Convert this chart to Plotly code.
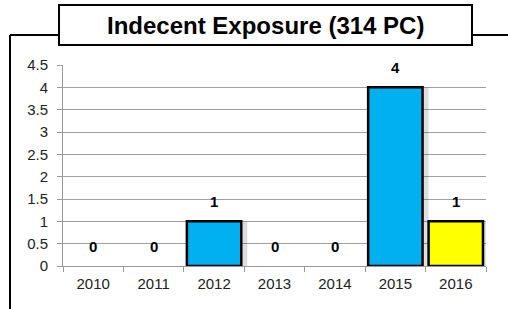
import plotly.graph_objects as go

years = ["2010", "2011", "2012", "2013", "2014", "2015", "2016"]
counts = [0, 0, 1, 0, 0, 4, 1]
bar_colors = ["#00B0F0"] * 6 + ["#FFFF00"]
y_ticks = [0, 0.5, 1, 1.5, 2, 2.5, 3, 3.5, 4, 4.5]
title_text = "Indecent Exposure (314 PC)"

W, H = 508, 309
L, R, T, B = 63, 486, 65, 266
pw, ph = R - L, B - T
FONT = "Liberation Sans, Arial"

def px(x):
    return (x - L) / pw

def py(y):
    return (B - y) / ph

line_widths = [2.5 if c > 0 else 0 for c in counts]

fig = go.Figure()
# soft shadow behind bars
fig.add_trace(go.Bar(
    x=years, y=counts, width=0.9, offset=-0.45 + 0.1,
    marker=dict(color="rgba(0,0,0,0.13)", line=dict(width=0)),
    hoverinfo="skip",
))
fig.add_trace(go.Bar(
    x=years, y=counts, width=0.9, offset=-0.45,
    marker=dict(color=bar_colors, line=dict(color="black", width=line_widths)),
    hoverinfo="skip",
))

annotations = []
for i, c in enumerate(counts):
    annotations.append(dict(x=i, y=c, xref="x", yref="y", text="<b>%d</b>" % c,
                            showarrow=False, yshift=20,
                            font=dict(family=FONT, size=15, color="black")))
annotations.append(dict(x=px((59 + 472) / 2), y=py(25), xref="paper", yref="paper",
                        xanchor="center", yanchor="middle",
                        text="<b>%s</b>" % title_text, showarrow=False,
                        font=dict(family=FONT, size=24, color="black")))

shapes = [
    dict(type="line", xref="paper", yref="paper", x0=px(10), x1=px(10), y0=py(35), y1=py(320),
         line=dict(color="black", width=2)),
    dict(type="line", xref="paper", yref="paper", x0=px(10), x1=px(520), y0=py(35), y1=py(35),
         line=dict(color="black", width=2)),
    dict(type="rect", xref="paper", yref="paper", x0=px(59), x1=px(472), y0=py(45), y1=py(5),
         fillcolor="white", line=dict(color="black", width=2)),
]

fig.update_layout(
    width=W, height=H,
    margin=dict(l=L, r=W - R, t=T, b=H - B, pad=0, autoexpand=False),
    paper_bgcolor="white", plot_bgcolor="white",
    showlegend=False, barmode="overlay",
    annotations=annotations, shapes=shapes,
    font=dict(family=FONT, size=15, color="#222"),
)
fig.update_xaxes(
    type="category", range=[-0.5, 6.5], autorange=False, tickson="boundaries",
    ticks="outside", ticklen=5, tickangle=0, automargin=False, ticklabelstandoff=4,
    tickcolor="#999", showline=True, linecolor="#999", linewidth=1,
    showgrid=False, tickfont=dict(family=FONT, size=15, color="#222"),
)
fig.update_yaxes(
    range=[0, 4.5], autorange=False, tickvals=y_ticks, ticks="outside", ticklen=5, tickcolor="#999",
    showline=True, linecolor="#999", linewidth=1, automargin=False, ticklabelstandoff=6,
    showgrid=True, gridcolor="#a0a0a0", gridwidth=1,
    tickfont=dict(family=FONT, size=15, color="#222"), zeroline=False,
)

fig.write_html("out.html", config={"displayModeBar": False},
               post_script="document.body.style.margin='0px';document.body.style.overflow='hidden';")
